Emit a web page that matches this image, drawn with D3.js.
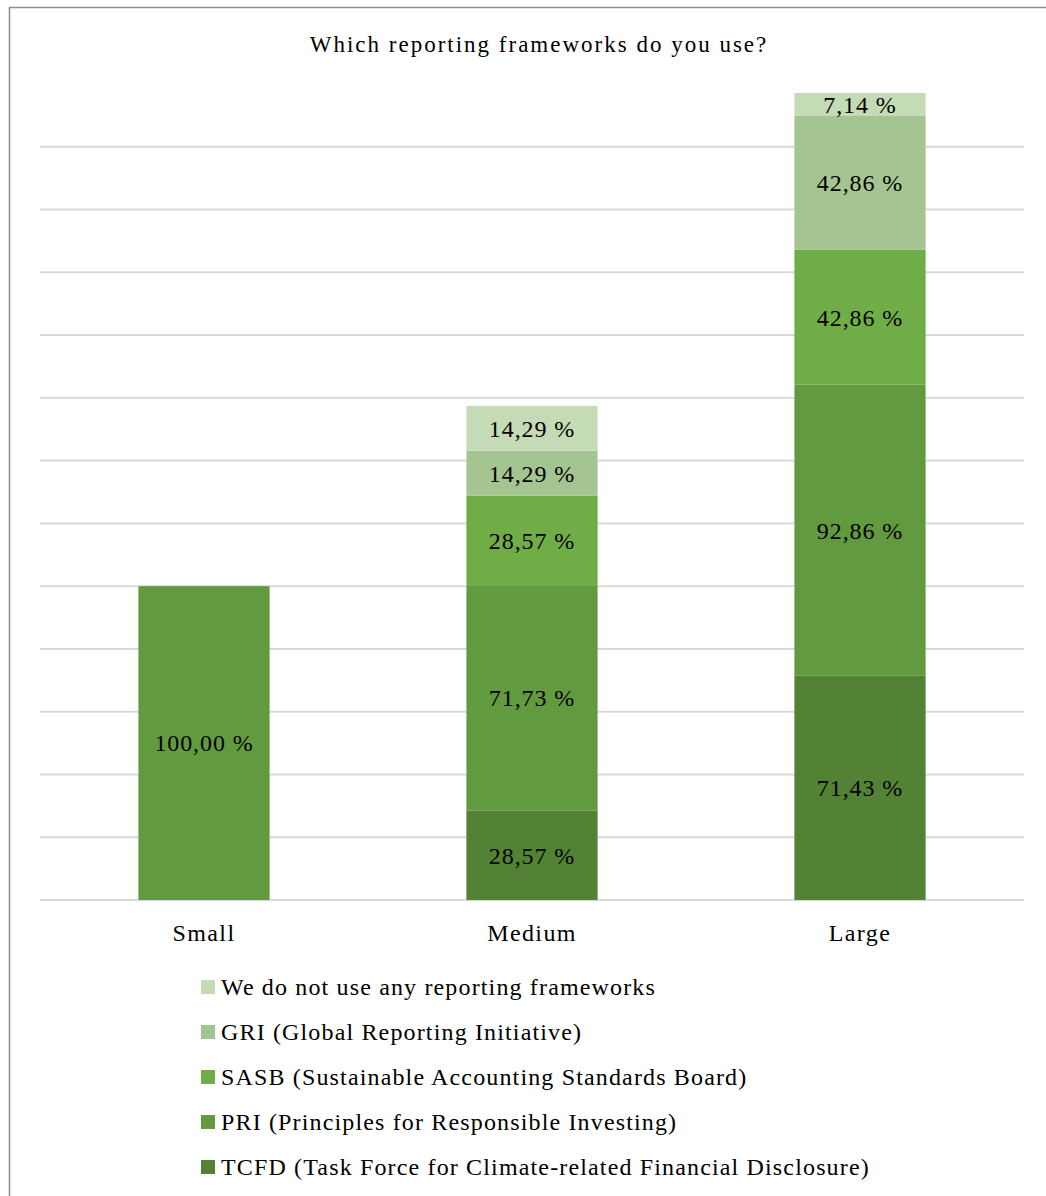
<!DOCTYPE html>
<html>
<head>
<meta charset="utf-8">
<script src="https://cdn.jsdelivr.net/npm/d3@7"></script>
<style>
  body { margin: 0; background: #fff; }
  svg { display: block; }
  text { font-family: 'Liberation Serif', 'Times New Roman', Times, serif; }
</style>
</head>
<body>
<svg id="chart"></svg>
<script>
// categories and series (bottom to top of the stack)
const categories = ['Small', 'Medium', 'Large'];
const seriesNames = [
  'TCFD (Task Force for Climate-related Financial Disclosure)',
  'PRI (Principles for Responsible Investing)',
  'SASB (Sustainable Accounting Standards Board)',
  'GRI (Global Reporting Initiative)',
  'We do not use any reporting frameworks'
];
const tcfd = [0, 28.57, 71.43];
const pri = [100.00, 71.73, 92.86];
const sasb = [0, 28.57, 42.86];
const gri = [0, 14.29, 42.86];
const none = [0, 14.29, 7.14];
const colors = ['#548235', '#629a3f', '#70ad47', '#a4c591', '#c5dbb6'];
const gridTicks = [0, 20, 40, 60, 80, 100, 120, 140, 160, 180, 200, 220, 240];

const W = 1046, H = 1196;
const margin = { top: 84, right: 22, bottom: 296, left: 40 };
const width = W - margin.left - margin.right;
const height = H - margin.top - margin.bottom;
const serif = "'Liberation Serif', 'Times New Roman', Times, serif";

const svg = d3.select('#chart').attr('width', W).attr('height', H);

// frame (only top and left edges are visible)
svg.append('line').attr('x1', 9).attr('x2', W).attr('y1', 7.5).attr('y2', 7.5)
  .attr('stroke', '#8c8c8c').attr('stroke-width', 1.5);
svg.append('line').attr('x1', 9.5).attr('x2', 9.5).attr('y1', 7).attr('y2', H)
  .attr('stroke', '#8c8c8c').attr('stroke-width', 1.5);

svg.append('text')
  .attr('x', 539).attr('y', 52)
  .attr('text-anchor', 'middle')
  .attr('font-family', serif)
  .attr('font-size', 23)
  .attr('letter-spacing', '2px')
  .attr('fill', '#000')
  .text('Which reporting frameworks do you use?');

const g = svg.append('g').attr('transform', `translate(${margin.left},${margin.top})`);

const x = d3.scaleBand().domain(categories).range([0, width]).paddingInner(0.6).paddingOuter(0.3);
const y = d3.scaleLinear().domain([0, 260]).range([height, 0]);

// gridlines
g.selectAll('.grid').data(gridTicks).enter().append('line')
  .attr('x1', 0).attr('x2', width)
  .attr('y1', d => y(d)).attr('y2', d => y(d))
  .attr('stroke', '#d9d9d9').attr('stroke-width', 2);

// stacked data
const rows = categories.map((c, i) => ({
  cat: c, s0: tcfd[i], s1: pri[i], s2: sasb[i], s3: gri[i], s4: none[i]
}));
const stack = d3.stack().keys(['s0', 's1', 's2', 's3', 's4']);
const stacked = stack(rows);

const layers = g.selectAll('.layer').data(stacked).enter().append('g')
  .attr('fill', (d, i) => colors[i]);

layers.selectAll('rect').data(d => d.filter(p => p[1] - p[0] > 0)).enter().append('rect')
  .attr('x', d => x(d.data.cat))
  .attr('width', x.bandwidth())
  .attr('y', d => y(d[1]))
  .attr('height', d => y(d[0]) - y(d[1]));

layers.selectAll('text').data(d => d.filter(p => p[1] - p[0] > 0)).enter().append('text')
  .attr('x', d => x(d.data.cat) + x.bandwidth() / 2)
  .attr('y', d => (y(d[0]) + y(d[1])) / 2)
  .attr('dy', '0.35em')
  .attr('text-anchor', 'middle')
  .attr('font-family', serif)
  .attr('font-size', 24)
  .attr('letter-spacing', '0.9px')
  .attr('fill', '#000')
  .text(d => (d[1] - d[0]).toFixed(2).replace('.', ',') + ' %');

// category axis
const xAxis = g.append('g').attr('transform', `translate(0,${height})`)
  .call(d3.axisBottom(x).tickSize(0).tickPadding(24));
xAxis.select('.domain').remove();
xAxis.attr('font-family', serif);
xAxis.selectAll('text').attr('font-size', 24).attr('fill', '#000')
  .attr('letter-spacing', '1.4px');

// legend, top to bottom in reverse stack order
const legendItems = seriesNames.map((n, i) => ({ name: n, color: colors[i] })).reverse();
const legend = svg.append('g').attr('transform', 'translate(201,987)');
const item = legend.selectAll('.item').data(legendItems).enter().append('g')
  .attr('transform', (d, i) => `translate(0,${i * 45})`);
item.append('rect').attr('x', 0).attr('y', -7).attr('width', 14).attr('height', 14)
  .attr('fill', d => d.color);
item.append('text').attr('x', 20).attr('y', 0).attr('dy', '0.35em')
  .attr('font-family', serif)
  .attr('font-size', 24).attr('letter-spacing', '1.15px').attr('fill', '#000')
  .text(d => d.name);
</script>
</body>
</html>
